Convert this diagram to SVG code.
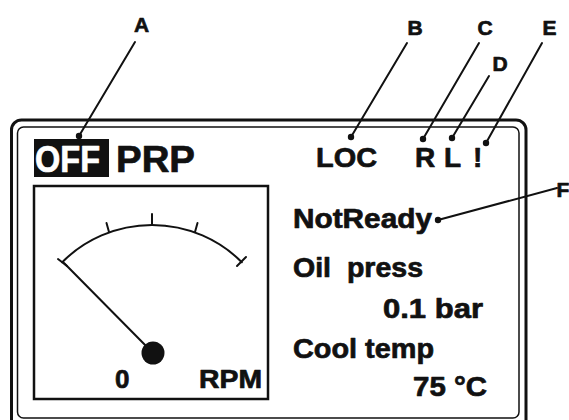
<svg xmlns="http://www.w3.org/2000/svg" width="569" height="420" viewBox="0 0 569 420">
<style>
text{font-family:"Liberation Sans",Arial,sans-serif;font-weight:bold;fill:#111;stroke:#111;stroke-width:0.7;stroke-linejoin:round}
.lbl{font-size:21px;text-anchor:middle}
.disp{font-size:28px}
.inv{fill:#fff;stroke:#fff}
.ln{stroke:#111;stroke-width:2;fill:none;stroke-linecap:round}
.dot{fill:#111}
</style>
<rect width="569" height="420" fill="#fff"/>
<g id="panel">
<rect x="11.5" y="120" width="514.5" height="320" rx="10" fill="none" stroke="#111" stroke-width="3"/>
<rect x="17.5" y="127" width="501.5" height="291" rx="6" fill="none" stroke="#111" stroke-width="1.5"/>
</g>
<g id="status">
<rect x="34" y="139" width="75" height="38" fill="#111"/>
<text class="inv" x="35" y="172" font-size="37" textLength="65" lengthAdjust="spacingAndGlyphs">OFF</text>
<text x="116" y="172" font-size="37" textLength="79" lengthAdjust="spacingAndGlyphs">PRP</text>
<text x="316" y="167" font-size="28" textLength="61" lengthAdjust="spacingAndGlyphs">LOC</text>
<text x="415" y="167" font-size="28">R</text>
<text x="444" y="167" font-size="28">L</text>
<text x="473" y="167" font-size="28">!</text>
</g>
<g id="gauge">
<rect x="34" y="186" width="234" height="213" fill="none" stroke="#111" stroke-width="2.5"/>
<path class="ln" d="M62.2,262.2 A127,127 0 0 1 241.8,262.2"/>
<line class="ln" x1="58" y1="259" x2="67" y2="266"/>
<line class="ln" x1="237" y1="266" x2="246" y2="257"/>
<line class="ln" x1="106.5" y1="223" x2="109" y2="232"/>
<line class="ln" x1="152" y1="214" x2="152" y2="225"/>
<line class="ln" x1="197.5" y1="223" x2="195" y2="232"/>
<line class="ln" x1="64" y1="263" x2="153" y2="353"/>
<circle cx="153" cy="353" r="11.5" class="dot"/>
<text x="115" y="388" font-size="26">0</text>
<text x="199" y="388" font-size="26" textLength="63" lengthAdjust="spacingAndGlyphs">RPM</text>
</g>
<g id="readouts">
<text class="disp" x="293" y="228" textLength="139" lengthAdjust="spacingAndGlyphs">NotReady</text>
<text class="disp" x="293" y="277" textLength="130" lengthAdjust="spacingAndGlyphs" xml:space="preserve">Oil  press</text>
<text class="disp" x="383" y="318" textLength="100" lengthAdjust="spacingAndGlyphs">0.1 bar</text>
<text class="disp" x="293" y="358" textLength="141" lengthAdjust="spacingAndGlyphs">Cool temp</text>
<text class="disp" x="413" y="396" textLength="74" lengthAdjust="spacingAndGlyphs">75 °C</text>
</g>
<g id="labels">
<text class="lbl" x="141.5" y="32">A</text>
<text class="lbl" x="415" y="35">B</text>
<text class="lbl" x="485" y="35">C</text>
<text class="lbl" x="500" y="71">D</text>
<text class="lbl" x="549.5" y="35">E</text>
<text class="lbl" x="563" y="197">F</text>
</g>
<g id="connectors">
<line class="ln" x1="135" y1="42" x2="79" y2="136"/><circle cx="79" cy="136" r="3.2" class="dot"/>
<line class="ln" x1="407" y1="43" x2="351" y2="137"/><circle cx="351" cy="137" r="3.2" class="dot"/>
<line class="ln" x1="479" y1="43" x2="423" y2="139"/><circle cx="423" cy="139" r="3.2" class="dot"/>
<line class="ln" x1="489" y1="76" x2="452" y2="138"/><circle cx="452" cy="138" r="3.2" class="dot"/>
<line class="ln" x1="542" y1="43" x2="486" y2="143"/><circle cx="486" cy="143" r="3.2" class="dot"/>
<line class="ln" x1="557" y1="188" x2="438" y2="220"/><circle cx="438" cy="220" r="3.2" class="dot"/>
</g>
</svg>
